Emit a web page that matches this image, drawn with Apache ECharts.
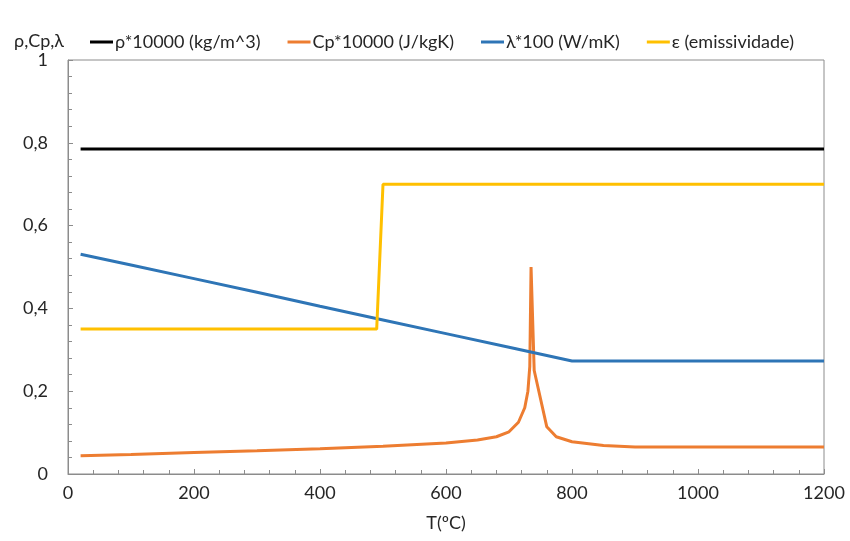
<!DOCTYPE html>
<html><head><meta charset="utf-8">
<script src="https://cdn.jsdelivr.net/npm/echarts@6/dist/echarts.min.js"></script>
<style>html,body{margin:0;padding:0;background:#fff}#c{width:850px;height:541px}</style>
</head><body><div id="c"></div>
<script>
const seriesNames = ['ρ*10000 (kg/m^3)', 'Cp*10000 (J/kgK)', 'λ*100 (W/mK)', 'ε (emissividade)'];
const rhoT = [20, 1200];
const rhoV = [0.785, 0.785];
const cpT = [20, 100, 200, 300, 400, 500, 600, 650, 680, 700, 715, 725, 730, 733, 735, 740, 760, 775, 800, 850, 900, 1200];
const cpV = [0.044, 0.047, 0.052, 0.056, 0.061, 0.067, 0.075, 0.082, 0.090, 0.102, 0.125, 0.160, 0.200, 0.260, 0.500, 0.250, 0.114, 0.090, 0.078, 0.069, 0.065, 0.065];
const lamT = [20, 100, 200, 300, 400, 500, 600, 700, 800, 1200];
const lamV = [0.531, 0.505, 0.472, 0.439, 0.405, 0.372, 0.339, 0.306, 0.273, 0.273];
const epsT = [20, 490, 500, 1200];
const epsV = [0.35, 0.35, 0.70, 0.70];
const yLabelName = 'ρ,Cp,λ';
const xLabelName = 'T(ºC)';

const pairs = (a, b) => a.map((t, i) => [t, b[i]]);
const colors = ['#000000', '#ED7D31', '#2E75B6', '#FFC000'];
const FONT = 'Lato';
const TXT = '#262626';
const FS = 18;
const chart = echarts.init(document.getElementById('c'));
const mk = (name, data, color) => ({
  name, type: 'line', data, showSymbol: false, symbol: 'none',
  lineStyle: { color, width: 3 }, itemStyle: { color }, animation: false
});
chart.setOption({
  animation: false,
  textStyle: { fontFamily: FONT },
  title: { text: yLabelName, left: 9, top: 27, textStyle: { fontFamily: FONT, fontSize: FS, fontWeight: 'normal', color: TXT } },
  legend: {
    left: 85, top: 28, itemWidth: 23, itemHeight: 3, itemGap: 27, icon: 'rect',
    textStyle: { fontFamily: FONT, fontSize: FS, color: TXT, padding: [0, 0, 0, -3] },
    data: seriesNames
  },
  grid: { left: 68, right: 26, top: 60, bottom: 67, show: true, borderColor: '#8c8c8c', borderWidth: 1 },
  xAxis: {
    type: 'value', min: 0, max: 1200, interval: 200,
    name: xLabelName, nameLocation: 'middle', nameGap: 40,
    nameTextStyle: { fontFamily: FONT, fontSize: FS, color: TXT },
    axisLine: { lineStyle: { color: '#8c8c8c' } },
    axisTick: { inside: true, length: 5, lineStyle: { color: '#8c8c8c' } },
    minorTick: { show: true, splitNumber: 5, length: 4, lineStyle: { color: '#8c8c8c' } },
    splitLine: { show: false },
    axisLabel: { fontFamily: FONT, fontSize: FS, color: TXT, margin: 10, formatter: v => String(v) }
  },
  yAxis: {
    type: 'value', min: 0, max: 1, interval: 0.2,
    axisLine: { show: true, lineStyle: { color: '#8c8c8c' } },
    axisTick: { show: true, inside: true, length: 5, lineStyle: { color: '#8c8c8c' } },
    minorTick: { show: true, splitNumber: 5, length: 4, lineStyle: { color: '#8c8c8c' } },
    splitLine: { show: false },
    axisLabel: { fontFamily: FONT, fontSize: FS, color: TXT, margin: 20,
      formatter: v => (Math.round(v * 10) / 10).toString().replace('.', ',') }
  },
  series: [
    mk(seriesNames[0], pairs(rhoT, rhoV), colors[0]),
    mk(seriesNames[1], pairs(cpT, cpV), colors[1]),
    mk(seriesNames[2], pairs(lamT, lamV), colors[2]),
    mk(seriesNames[3], pairs(epsT, epsV), colors[3])
  ]
});
</script></body></html>
